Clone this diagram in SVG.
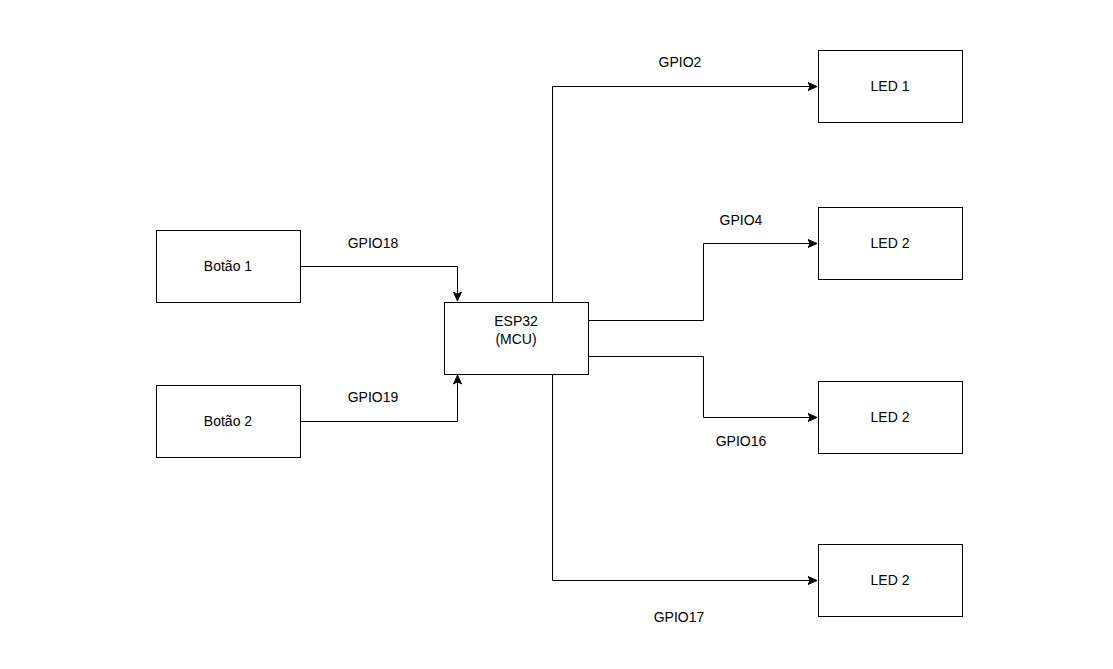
<svg xmlns="http://www.w3.org/2000/svg" width="1113" height="669" viewBox="0 0 1113 669">
<style>
.n rect{fill:#fff;stroke:#000;stroke-width:1}
text{font-family:"Liberation Sans",Arial,sans-serif;font-size:14px;fill:#000;text-anchor:middle;dominant-baseline:central}
.c path{fill:none;stroke:#000;stroke-width:1}
</style>
<defs>
<marker id="a" markerWidth="10" markerHeight="10" viewBox="0 0 10 10" refX="9.5" refY="5" orient="auto" markerUnits="userSpaceOnUse">
<path d="M0.5,1 L9.5,5 L0.5,9 L2.8,5 Z" fill="#000" stroke="#000" stroke-width="1"/>
</marker>
</defs>
<rect width="1113" height="669" fill="#fff"/>
<g class="c" id="connectors">
<path d="M300.5,266.5 H457.5 V301" marker-end="url(#a)"/>
<path d="M300.5,421.5 H457.5 V375" marker-end="url(#a)"/>
<path d="M552.5,302 V86.5 H817" marker-end="url(#a)"/>
<path d="M588.5,320.5 H703.5 V243.5 H817" marker-end="url(#a)"/>
<path d="M588.5,356.5 H703.5 V417.5 H817" marker-end="url(#a)"/>
<path d="M552.5,374 V580.5 H817" marker-end="url(#a)"/>
</g>
<g id="labels">
<text x="373" y="243">GPIO18</text>
<text x="373" y="397">GPIO19</text>
<text x="680" y="62">GPIO2</text>
<text x="741" y="220">GPIO4</text>
<text x="741" y="441">GPIO16</text>
<text x="679" y="617">GPIO17</text>
</g>
<g class="n" id="botao1"><rect x="156.5" y="230.5" width="144" height="72"/><text x="228" y="266">Botão 1</text></g>
<g class="n" id="botao2"><rect x="156.5" y="385.5" width="144" height="72"/><text x="228" y="421">Botão 2</text></g>
<g class="n" id="esp32"><rect x="444.5" y="302.5" width="144" height="72"/><text x="516" y="321">ESP32</text><text x="516" y="339">(MCU)</text></g>
<g class="n" id="led1"><rect x="818.5" y="50.5" width="144" height="72"/><text x="890" y="86">LED 1</text></g>
<g class="n" id="led2a"><rect x="818.5" y="207.5" width="144" height="72"/><text x="890" y="243">LED 2</text></g>
<g class="n" id="led2b"><rect x="818.5" y="381.5" width="144" height="72"/><text x="890" y="417">LED 2</text></g>
<g class="n" id="led2c"><rect x="818.5" y="544.5" width="144" height="72"/><text x="890" y="580">LED 2</text></g>
</svg>
